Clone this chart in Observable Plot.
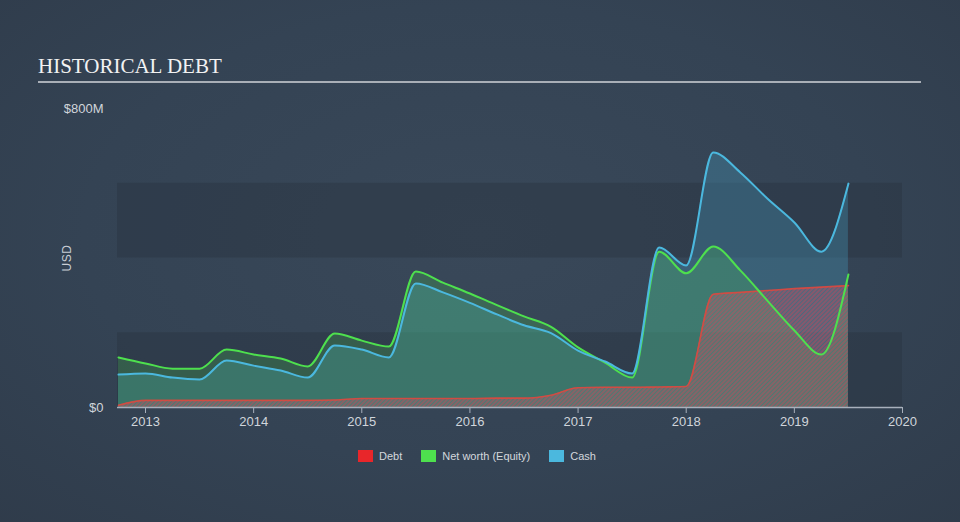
<!DOCTYPE html>
<html><head><meta charset="utf-8">
<script src="https://cdn.jsdelivr.net/npm/d3@7"></script>
<script src="https://cdn.jsdelivr.net/npm/@observablehq/plot@0.6"></script>
<style>
html,body{margin:0;padding:0;}
body{width:960px;height:522px;overflow:hidden;background:#334252;}
#wrap{position:relative;width:960px;height:522px;overflow:hidden;
  background:radial-gradient(ellipse 75% 80% at 50% 45%, #394859 0%, #344354 55%, #2f3b4a 100%);
  font-family:"Liberation Sans",Arial,sans-serif;}
#title{position:absolute;left:38px;top:56px;font-family:"Liberation Serif","Times New Roman",serif;
  font-size:21px;line-height:21px;color:#f2f2f2;white-space:nowrap;}
#rule{position:absolute;left:38px;top:81px;width:883px;height:2px;background:#a9afb7;}
#usd{position:absolute;left:67px;top:258px;transform:translate(-50%,-50%) rotate(-90deg);
  font-size:12px;color:#c9ced5;letter-spacing:0.5px;}
#chart{position:absolute;left:0;top:90px;}
#legend{position:absolute;top:450px;left:358px;display:flex;align-items:center;font-size:11px;color:#d3d7dc;white-space:nowrap;}
#legend .sw{display:inline-block;width:15px;height:12px;margin-right:6px;}
#legend .it{display:flex;align-items:center;margin-right:19px;}
</style>
</head><body>
<div id="wrap">
  <div id="title">HISTORICAL DEBT</div>
  <div id="rule"></div>
  <div id="usd">USD</div>
  <div id="chart"></div>
  <div id="legend"></div>
</div>
<script>
// ---- data (USD millions, quarterly) ----
const quarters = [2012.75, 2013.0, 2013.25, 2013.5, 2013.75, 2014.0, 2014.25, 2014.5,
  2014.75, 2015.0, 2015.25, 2015.5, 2015.75, 2016.0, 2016.25, 2016.5, 2016.75,
  2017.0, 2017.25, 2017.5, 2017.75, 2018.0, 2018.25, 2018.5, 2018.75, 2019.0, 2019.25, 2019.5];
const cash = [88, 91, 80, 75, 126, 112, 99, 80,
  166, 155, 134, 332, 308, 280, 249, 220, 199,
  152, 123, 91, 428, 380, 682, 629, 559, 495, 417, 599];
const equity = [134, 118, 104, 104, 155, 142, 131, 110,
  198, 179, 163, 364, 334, 305, 274, 244, 216,
  161, 120, 80, 417, 359, 431, 367, 286, 206, 142, 356];
const debt = [6, 19, 19, 19, 19, 19, 19, 19,
  20, 24, 24, 24, 24, 24, 25, 25, 33,
  53, 54, 54, 55, 56, 303, 308, 313, 318, 322, 326];
const xTicks = [2013, 2014, 2015, 2016, 2017, 2018, 2019, 2020];
const yTicks = [0, 800];
const bandRanges = [[0, 200], [400, 600]];
const seriesNames = ["Debt", "Net worth (Equity)", "Cash"];
const seriesColors = ["#e8262a", "#4ee04e", "#4bb8de"];

const rows = quarters.map((q, i) => ({q, cash: cash[i], equity: equity[i], debt: debt[i]}));
const xMin = 2012.741, xMax = 2020;

const plot = Plot.plot({
  width: 960, height: 350,
  marginLeft: 117, marginRight: 58, marginTop: 18, marginBottom: 33,
  x: {domain: [xMin, xMax]},
  y: {domain: [0, 800]},
  style: {background: "transparent", color: "#d0d5db", fontSize: "13px",
    fontFamily: "'Liberation Sans', Arial, sans-serif", overflow: "visible"},
  marks: [
    Plot.rect(bandRanges, {x1: () => xMin, x2: () => xMax, y1: d => d[0], y2: d => d[1], fill: "#28333f", fillOpacity: 0.4}),
    Plot.areaY(rows, {x: "q", y: "cash", fill: seriesColors[2], fillOpacity: 0.25, curve: "monotone-x"}),
    Plot.areaY(rows, {x: "q", y: "equity", fill: seriesColors[1], fillOpacity: 0.2, curve: "monotone-x"}),
    Plot.areaY(rows, {x: "q", y: "debt", fill: "url(#debtHatch)", curve: "monotone-x"}),
    Plot.lineY(rows, {x: "q", y: "debt", stroke: "#e2463c", strokeWidth: 1.6, strokeOpacity: 0.85, curve: "monotone-x"}),
    Plot.lineY(rows, {x: "q", y: "equity", stroke: seriesColors[1], strokeWidth: 2, curve: "monotone-x"}),
    Plot.lineY(rows, {x: "q", y: "cash", stroke: seriesColors[2], strokeWidth: 2, curve: "monotone-x"}),
    Plot.ruleY([0], {stroke: "#a8b0bc", strokeWidth: 1.5}),
    Plot.axisX({ticks: xTicks, tickFormat: d => String(d), tickSize: 6, tickPadding: 3, label: null, stroke: "#a8b0bc", color: "#d0d5db"}),
    Plot.axisY({ticks: yTicks, tickFormat: d => d === 0 ? "$0" : "$" + d + "M", tickSize: 0, tickPadding: 14, label: null})
  ]
});

const svg = d3.select(plot.tagName.toLowerCase() === "svg" ? plot : plot.querySelector("svg"));
const defs = svg.insert("defs", ":first-child");
const pat = defs.append("pattern").attr("id", "debtHatch").attr("patternUnits", "userSpaceOnUse")
  .attr("width", 3).attr("height", 3).attr("patternTransform", "rotate(45)");
pat.append("rect").attr("width", 3).attr("height", 3).attr("fill", "rgba(150,140,150,0.2)");
pat.append("line").attr("x1", 1).attr("y1", 0).attr("x2", 1).attr("y2", 3)
  .attr("stroke", "#e23c55").attr("stroke-width", 1.2).attr("stroke-opacity", 0.65);

document.getElementById("chart").appendChild(plot);

const legend = d3.select("#legend");
seriesNames.forEach((n, i) => {
  const it = legend.append("div").attr("class", "it");
  it.append("span").attr("class", "sw").style("background", seriesColors[i]);
  it.append("span").text(n);
});
</script>
</body></html>
